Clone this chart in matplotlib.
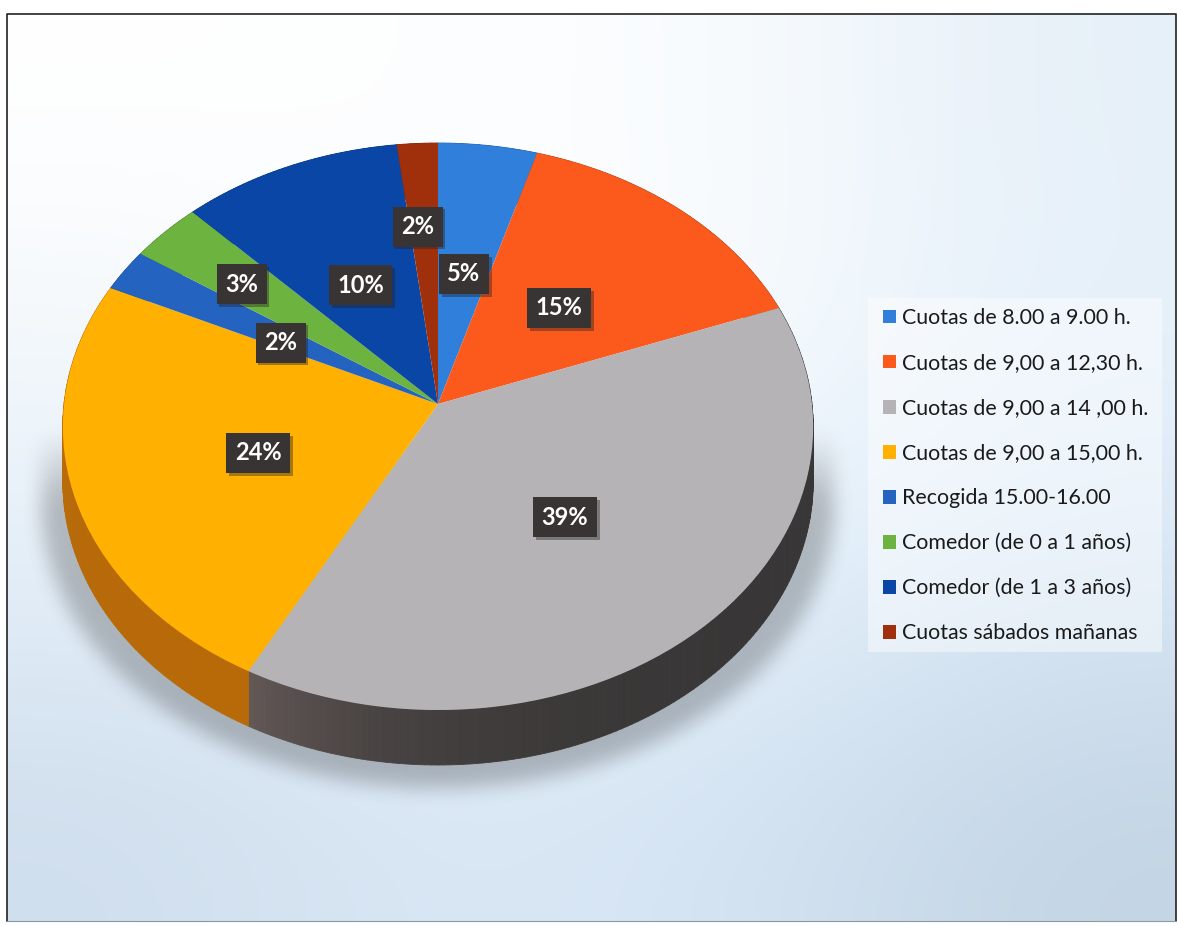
import numpy as np
import matplotlib
matplotlib.use('Agg')
import matplotlib.pyplot as plt
import matplotlib.patheffects as pe
from matplotlib.collections import PolyCollection
from matplotlib.colors import to_rgb
from matplotlib.patches import Rectangle
from matplotlib.transforms import Affine2D, Transform

categories = ['Cuotas de 8.00 a 9.00 h.', 'Cuotas de 9,00 a 12,30 h.', 'Cuotas de 9,00 a 14 ,00 h.',
              'Cuotas de 9,00 a 15,00 h.', 'Recogida 15.00-16.00', 'Comedor (de 0 a 1 años)',
              'Comedor (de 1 a 3 años)', 'Cuotas sábados mañanas']
shares = [4.6, 14.7, 38.51, 24.19, 2.4, 3.4, 10.3, 1.9]
colors = ['#2f7fdb', '#fb5a1c', '#b5b3b5', '#ffb000', '#2563c0', '#6db33f', '#0a46a5', '#a0300c']
side_right = ['#1f5a9e', '#b03f12', '#383636', '#b86a08', '#1a4688', '#4c7d2c', '#073174', '#702108']
side_left = ['#1f5a9e', '#b03f12', '#625856', '#cc7d0a', '#1a4688', '#4c7d2c', '#073174', '#702108']
label_reach = [1.0, 1.0, 1.0, 1.0, 0.96, 1.42, 1.0, 1.36]
label_dx = [0, -3, 0, 0, -4, 0, 0, -6]

plt.rcParams['font.family'] = ['Lato', 'DejaVu Sans']

W, H = 1178, 926
CX, CY = 438, 404
RX, RY, K = 374, 281.7, 0.0794
DEPTH = 55


# Tilted disc: unit circle to pixel coordinates, the near side gets bigger
class Tilt(Transform):
    input_dims = 2
    output_dims = 2
    is_separable = False
    has_inverse = False

    def transform_non_affine(self, values):
        values = np.asarray(values, dtype=float)
        d = 1 + K * values[:, 1]
        return np.column_stack([CX + RX * values[:, 0] / d, CY - RY * values[:, 1] / d])


def blend(c1, c2, f):
    return tuple(np.array(to_rgb(c1)) * (1 - f) + np.array(to_rgb(c2)) * f)


# Box blur, three passes, along both directions
def blur(a, n):
    kernel = np.ones(n) / n
    for _ in range(3):
        a = np.apply_along_axis(lambda r: np.convolve(r, kernel, mode='same'), 0, a)
        a = np.apply_along_axis(lambda r: np.convolve(r, kernel, mode='same'), 1, a)
    return a


fig = plt.figure(figsize=(W / 100, H / 100), dpi=100, facecolor='white')
ax = fig.add_axes([0, 0, 1, 1])

# Background of the slide
grid = np.array([[to_rgb(c) for c in row] for row in [
    ['#ffffff', '#fdfeff', '#f9fcfe', '#e6f0f8'],
    ['#f2f7fb', '#ffffff', '#f9fcfe', '#e6f1fb'],
    ['#e3eef8', '#e8f2fb', '#e6f2fc', '#d8e7f5'],
    ['#cfdeed', '#dbe8f6', '#d4e4f3', '#c3d4e4'],
]])
ax.imshow(grid, extent=(7, 1176, 921, 14), interpolation='bicubic', zorder=0)

# Soft shadow under the pie: straight sides on top, rounded below
ys, xs = np.mgrid[0:H:2, 0:W:2]
dy = np.clip(ys - 505, 0, None)
shadow = (((xs - 437) / 396.0) ** 2 + (dy / 282.0) ** 2 < 1).astype(float)
shadow *= np.clip((ys - 430) / 70.0, 0, 1)
shadow = blur(shadow, 9) * 0.3
rgba = np.zeros(shadow.shape + (4,))
rgba[..., :3] = 0.2
rgba[..., 3] = shadow
ax.imshow(rgba, extent=(0, W, H, 0), interpolation='bilinear', zorder=1)

# Side wall of the pie, thin strips so that the shade can run along it
tilt = Tilt()
edges = np.concatenate([[0], np.cumsum(shares)]) / np.sum(shares) * 2 * np.pi
for i in range(len(shares)):
    th = np.linspace(edges[i], edges[i + 1], max(int(shares[i] * 4), 4))
    top = tilt.transform(np.column_stack([np.sin(th), np.cos(th)]))
    quads, shades = [], []
    for j in range(len(th) - 1):
        quads.append([top[j], top[j + 1], top[j + 1] + [0, DEPTH], top[j] + [0, DEPTH]])
        shades.append(blend(side_right[i], side_left[i], (j / (len(th) - 2)) ** 6))
    ax.add_collection(PolyCollection(quads, facecolors=shades, edgecolors=shades, linewidths=0.6, zorder=2))

wedges, _, pct_texts = ax.pie(shares, colors=colors, startangle=90, counterclock=False, radius=1,
                              autopct='%.0f%%', pctdistance=0.5, wedgeprops={'linewidth': 0, 'zorder': 3},
                              textprops={'fontsize': 17, 'color': 'white', 'fontweight': 'bold', 'zorder': 5})
for w in wedges:
    w.set_transform(tilt + ax.transData)

for t, reach, dx in zip(pct_texts, label_reach, label_dx):
    x, y = t.get_position()
    t.set_position((x * reach, y * reach))
    # text sat a few pixels too high, move it down on screen
    t.set_transform(tilt + ax.transData + Affine2D().translate(dx, -4))
    t.set_bbox({'boxstyle': 'square,pad=0.36', 'facecolor': '#383434', 'edgecolor': 'none'})
    t.get_bbox_patch().set_path_effects([pe.withSimplePatchShadow(offset=(2, -2), shadow_rgbFace='#222222', alpha=0.4)])

# Scanned frame of the slide
ax.plot([7, 7, 1176, 1176], [921, 14, 14, 921], color='#222222', lw=1.2, zorder=6)
ax.plot([7, 1176], [921, 921], color='#8b98a3', lw=0.8, zorder=6)

# Legend panel is wider than the legend pads allow, so it is its own patch
ax.add_patch(Rectangle((868, 298), 294, 354, facecolor='white', edgecolor='none', alpha=0.45, zorder=5))
leg = ax.legend(wedges, categories, loc='upper left', bbox_to_anchor=(873, 298), bbox_transform=ax.transData,
                borderaxespad=0, frameon=False, fontsize=15.4, labelcolor='#1a1a1a', handlelength=0.62,
                handleheight=0.62, handletextpad=0.25, labelspacing=1.17, borderpad=0.47)
leg.set_zorder(6)

ax.set_aspect('auto')
ax.set_xlim(0, W)
ax.set_ylim(H, 0)
ax.set_axis_off()
fig.savefig('out.png', dpi=100, facecolor='white')
